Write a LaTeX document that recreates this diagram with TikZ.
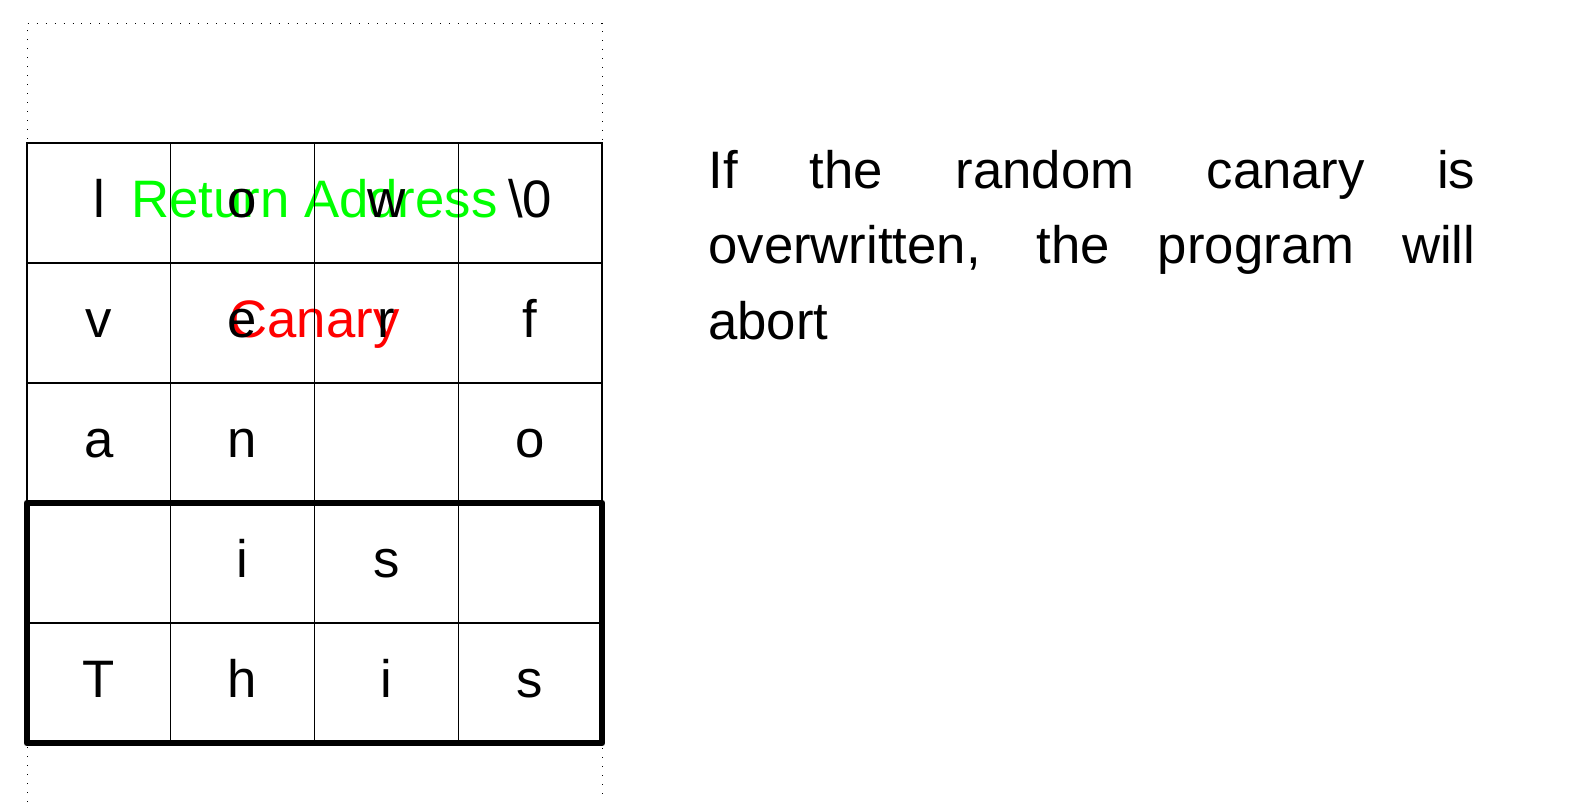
\documentclass[tikz,border=0pt]{standalone}
\usepackage{fontspec}
\setmainfont{Liberation Sans}
\hyphenpenalty=10000
\tolerance=10000

\tikzset{
  cell/.style={draw, line width=0.6pt, minimum width=2.875cm, minimum height=2.4cm,
    inner sep=0pt, outer sep=0pt, text height=0.78cm, text depth=0.22cm},
  tag/.style={inner sep=0pt, text height=0.78cm, text depth=0.22cm},
  frame/.style={line width=0.5pt, dash pattern=on 0.5pt off 4.6pt},
  buffer/.style={line width=3.8pt, line join=round}
}

\begin{document}
\begin{tikzpicture}[font=\fontsize{30}{43}\selectfont]
\useasboundingbox (0,0) rectangle (31.68,-16.04);

% Stack frame
\draw[frame] (0.54,-16.04) -- (0.54,-0.46) -- (12.04,-0.46) -- (12.04,-16.04);

% Overwritten slots (under the cells)
\node[tag, green] (retaddr) at (6.29,-4.06) {Return Address};
\node[tag, red] (canary) at (6.29,-6.46) {Canary};

% Stack cells, top row first
\foreach \c/\t in {1/l,2/o,3/w,4/{\textbackslash 0}}
  \node[cell] (r1c\c) at ({1.9775+2.875*(\c-1)},-4.06) {\t};
\foreach \c/\t in {1/v,2/e,3/r,4/f}
  \node[cell] (r2c\c) at ({1.9775+2.875*(\c-1)},-6.46) {\t};
\foreach \c/\t in {1/a,2/n,3/{},4/o}
  \node[cell] (r3c\c) at ({1.9775+2.875*(\c-1)},-8.86) {\t};
\foreach \c/\t in {1/{},2/i,3/s,4/{}}
  \node[cell] (r4c\c) at ({1.9775+2.875*(\c-1)},-11.26) {\t};
\foreach \c/\t in {1/T,2/h,3/i,4/s}
  \node[cell] (r5c\c) at ({1.9775+2.875*(\c-1)},-13.66) {\t};

% Buffer
\draw[buffer] (r4c1.north west) rectangle (r5c4.south east);

% Note
\node[anchor=base west, text width=15.34cm, align=justify, inner sep=0pt] (note)
  at (14.16,-3.766) {If the random canary is overwritten, the program will abort};
\end{tikzpicture}
\end{document}
